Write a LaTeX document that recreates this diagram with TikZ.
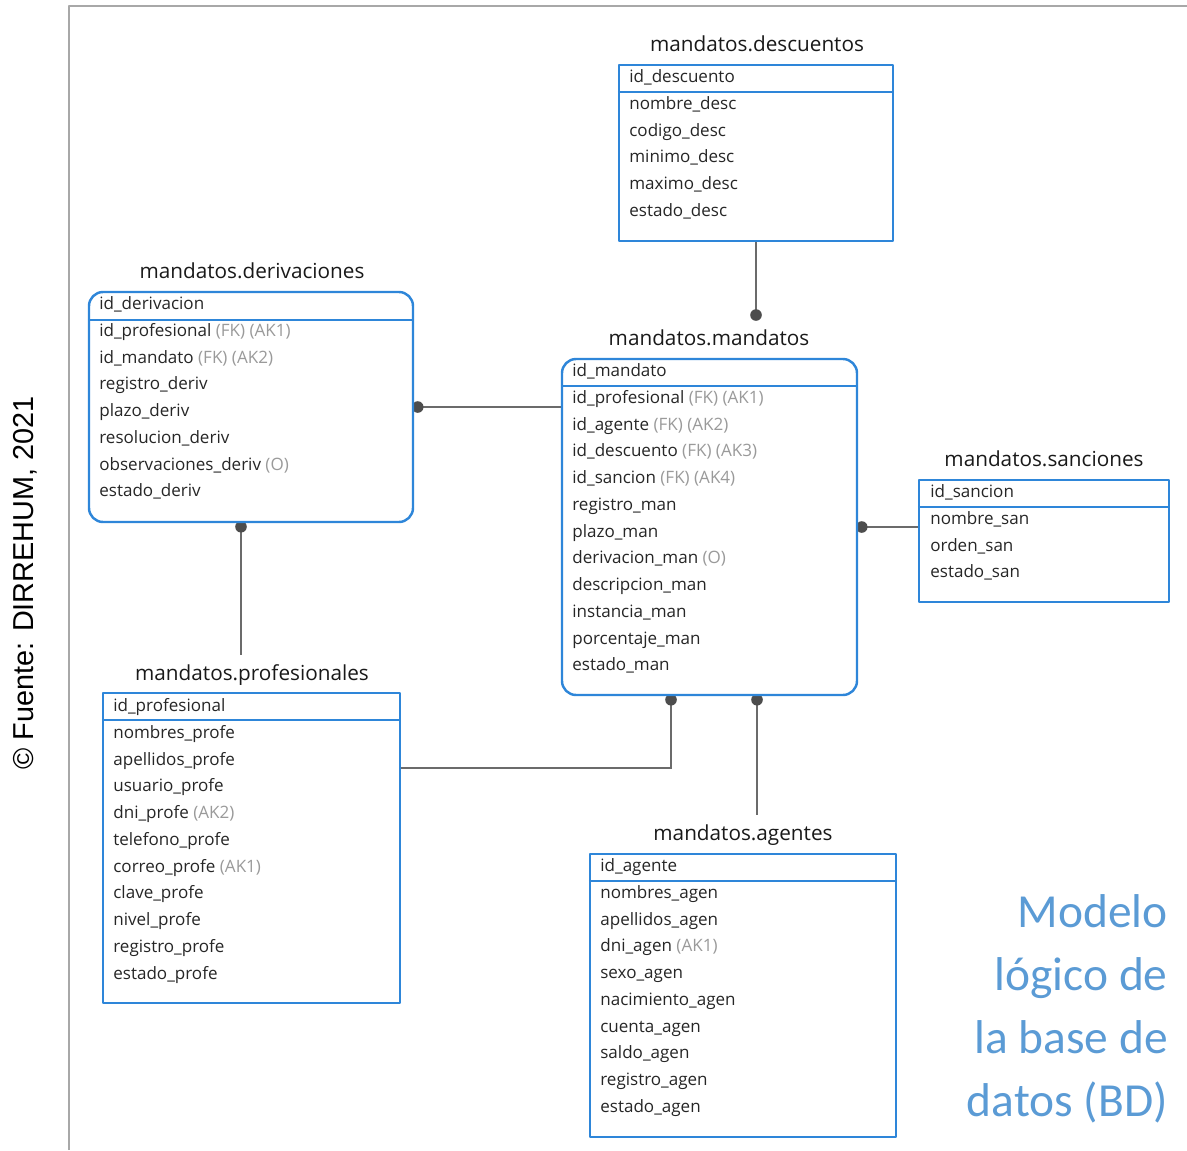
\documentclass[tikz,border=0pt]{standalone}
\usepackage{fontspec}
\setmainfont{Open Sans}
\newfontfamily\fuentefont{Liberation Sans}
\newfontfamily\leyendafont{Carlito}
\usetikzlibrary{fit,backgrounds}

\definecolor{azul}{HTML}{2E86D9}
\definecolor{gris}{HTML}{9A9A9A}
\definecolor{linea}{HTML}{6B6B6B}
\definecolor{punto}{HTML}{4D4D4D}
\definecolor{marco}{HTML}{A8A8A8}
\definecolor{leyenda}{HTML}{5B9BD5}
\newcommand{\clave}[1]{\textcolor{gris}{#1}}

\tikzset{
  tabla/.style={draw=azul, line width=1.4pt, fill=white, inner sep=0pt},
  redondo/.style={tabla, rounded corners=8pt},
  cabecera/.style={draw=azul, line width=1.4pt},
  titulo/.style={anchor=base, inner sep=0pt, text=black!90, font=\fontsize{11.8}{14}\selectfont},
  fila/.style={anchor=base west, inner sep=0pt, text=black!85},
  conector/.style={draw=linea, line width=0.8pt},
  bola/.style={fill=punto}
}

\begin{document}
\begin{tikzpicture}[x=0.02cm, y=-0.02cm, line join=round, font=\fontsize{9.7}{11}\selectfont]
  \useasboundingbox (0,0) rectangle (1187,1150);
  % marco gris
  \draw[marco, line width=1.6pt] (69,1150) -- (69,6) -- (1187,6);

  % tablas
  \node[tabla, fit={(619,65) (893,241)}] (desc) {};
  \node[redondo, fit={(89,292) (413,522)}] (deriv) {};
  \node[redondo, fit={(562,359) (857,695)}] (mand) {};
  \node[tabla, fit={(919,480) (1169,602)}] (sanc) {};
  \node[tabla, fit={(103,693) (400,1003)}] (prof) {};
  \node[tabla, fit={(590,854) (896,1137)}] (agen) {};

  % linea bajo la clave primaria
  \draw[cabecera] (desc.west |- 0,92) -- (desc.east |- 0,92);
  \draw[cabecera] (deriv.west |- 0,320) -- (deriv.east |- 0,320);
  \draw[cabecera] (mand.west |- 0,386) -- (mand.east |- 0,386);
  \draw[cabecera] (sanc.west |- 0,507) -- (sanc.east |- 0,507);
  \draw[cabecera] (prof.west |- 0,720) -- (prof.east |- 0,720);
  \draw[cabecera] (agen.west |- 0,881) -- (agen.east |- 0,881);

  % nombres de las tablas
  \node[titulo] (desc-t) at (757,51) {mandatos.descuentos};
  \node[titulo] (deriv-t) at (252,278) {mandatos.derivaciones};
  \node[titulo] (mand-t) at (709,345) {mandatos.mandatos};
  \node[titulo] (sanc-t) at (1044,466) {mandatos.sanciones};
  \node[titulo] (prof-t) at (252,680) {mandatos.profesionales};
  \node[titulo] (agen-t) at (743,840) {mandatos.agentes};

  % campos
  \foreach \f [count=\i from 0] in {id\_descuento, nombre\_desc, codigo\_desc,
      minimo\_desc, maximo\_desc, estado\_desc}
    \node[fila] (desc-\i) at (629,{82.5+26.75*\i}) {\f};
  \foreach \f [count=\i from 0] in {id\_derivacion, id\_profesional \clave{(FK) (AK1)},
      id\_mandato \clave{(FK) (AK2)}, registro\_deriv, plazo\_deriv, resolucion\_deriv,
      observaciones\_deriv \clave{(O)}, estado\_deriv}
    \node[fila] (deriv-\i) at (99,{309.5+26.75*\i}) {\f};
  \foreach \f [count=\i from 0] in {id\_mandato, id\_profesional \clave{(FK) (AK1)},
      id\_agente \clave{(FK) (AK2)}, id\_descuento \clave{(FK) (AK3)},
      id\_sancion \clave{(FK) (AK4)}, registro\_man, plazo\_man,
      derivacion\_man \clave{(O)}, descripcion\_man, instancia\_man,
      porcentaje\_man, estado\_man}
    \node[fila] (mand-\i) at (572,{376.5+26.75*\i}) {\f};
  \foreach \f [count=\i from 0] in {id\_sancion, nombre\_san, orden\_san, estado\_san}
    \node[fila] (sanc-\i) at (930,{497.5+26.75*\i}) {\f};
  \foreach \f [count=\i from 0] in {id\_profesional, nombres\_profe, apellidos\_profe,
      usuario\_profe, dni\_profe \clave{(AK2)}, telefono\_profe, correo\_profe \clave{(AK1)},
      clave\_profe, nivel\_profe, registro\_profe, estado\_profe}
    \node[fila] (prof-\i) at (113,{711.5+26.75*\i}) {\f};
  \foreach \f [count=\i from 0] in {id\_agente, nombres\_agen, apellidos\_agen,
      dni\_agen \clave{(AK1)}, sexo\_agen, nacimiento\_agen, cuenta\_agen,
      saldo\_agen, registro\_agen, estado\_agen}
    \node[fila] (agen-\i) at (600,{871.5+26.75*\i}) {\f};

  % relaciones
  \begin{scope}[on background layer]
    \draw[conector] (desc.south) -- (desc.south |- 0,315) coordinate (e1);
    \fill[bola] (e1) circle (3.3pt);
    \draw[conector] (deriv.east |- 0,407) coordinate (e2) -- (mand.west |- 0,407);
    \fill[bola] ([xshift=2pt]e2) circle (3.3pt);
    \draw[conector] (mand.east |- 0,527) coordinate (e3) -- (sanc.west |- 0,527);
    \fill[bola] ([xshift=2pt]e3) circle (3.3pt);
    \draw[conector] (deriv.south -| 241,0) coordinate (e4) -- (241,655);
    \fill[bola] ([yshift=-2pt]e4) circle (3.3pt);
    \draw[conector] (mand.south -| 671,0) coordinate (e5) -- (671,768) -- (prof.east |- 0,768);
    \fill[bola] ([yshift=-2pt]e5) circle (3.3pt);
    \draw[conector] (mand.south -| 757,0) coordinate (e6) -- (757,815);
    \fill[bola] ([yshift=-2pt]e6) circle (3.3pt);
  \end{scope}

  % textos laterales
  \node[rotate=90, inner sep=0pt, font=\fuentefont\fontsize{16.4}{19}\selectfont] (fuente)
    at (25,583) {© Fuente: DIRREHUM, 2021};
  \node[anchor=north east, align=right, inner sep=0pt, text=leyenda,
    font=\leyendafont\fontsize{27}{35.8}\selectfont] (leyenda) at (1168,894)
    {Modelo\\lógico de\\la base de\\datos (BD)};
\end{tikzpicture}
\end{document}
